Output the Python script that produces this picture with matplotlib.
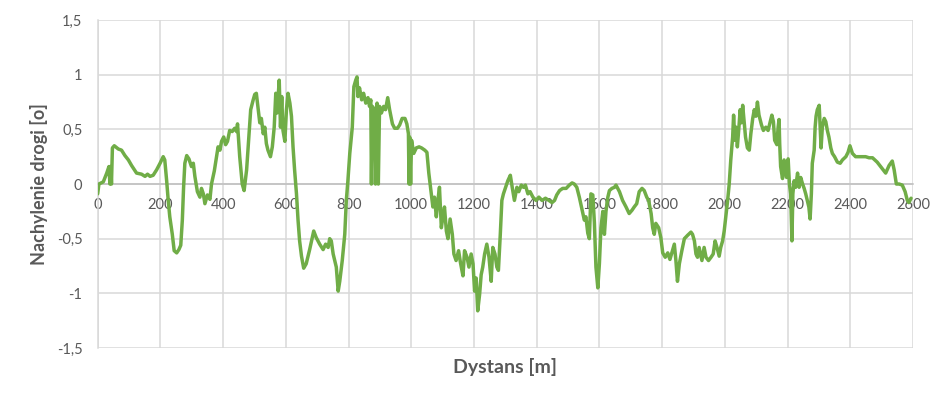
import matplotlib
matplotlib.use("Agg")
import matplotlib.pyplot as plt

plt.rcParams['font.family'] = ['Lato', 'DejaVu Sans']

distance = [0, 4, 18, 29, 36, 39, 42, 44, 47, 53, 66, 76, 87, 98, 108, 117, 124, 140, 151, 159, 167, 177, 188, 199,
            209, 214, 220, 225, 230, 238, 244, 252, 259, 265, 270, 274, 278, 284, 291, 299, 305, 310, 318, 326, 331,
            337, 342, 350, 358, 363, 372, 379, 384, 390, 395, 402, 408, 414, 421, 429, 437, 443, 446, 453, 461, 467,
            475, 480, 488, 496, 501, 506, 512, 517, 522, 528, 533, 538, 543, 551, 557, 563, 568, 572, 579, 583, 587,
            591, 597, 602, 607, 613, 618, 623, 628, 634, 639, 644, 650, 657, 665, 676, 689, 697, 708, 719, 727, 735,
            740, 745, 751, 761, 767, 772, 780, 788, 793, 798, 804, 812, 817, 823, 827, 830, 835, 842, 848, 855, 862,
            867, 871, 873, 876, 883, 886, 891, 895, 899, 905, 912, 918, 925, 931, 940, 947, 956, 963, 971, 980, 986,
            991, 993, 995, 998, 1001, 1008, 1016, 1025, 1033, 1043, 1050, 1056, 1064, 1069, 1074, 1080, 1085, 1090,
            1096, 1101, 1106, 1112, 1117, 1124, 1131, 1136, 1143, 1151, 1157, 1165, 1170, 1178, 1184, 1191, 1197,
            1202, 1207, 1212, 1218, 1223, 1228, 1234, 1241, 1248, 1255, 1260, 1267, 1273, 1278, 1284, 1289, 1294,
            1301, 1308, 1316, 1322, 1329, 1337, 1343, 1351, 1358, 1364, 1372, 1379, 1388, 1398, 1407, 1417, 1428,
            1439, 1449, 1457, 1464, 1473, 1483, 1494, 1504, 1513, 1520, 1528, 1536, 1545, 1552, 1557, 1563, 1568,
            1573, 1579, 1584, 1589, 1595, 1600, 1605, 1611, 1616, 1621, 1627, 1632, 1640, 1648, 1653, 1664, 1674,
            1685, 1695, 1704, 1711, 1719, 1727, 1736, 1743, 1751, 1757, 1765, 1770, 1775, 1780, 1789, 1796, 1802,
            1810, 1818, 1825, 1833, 1839, 1844, 1849, 1855, 1863, 1871, 1881, 1892, 1897, 1903, 1908, 1913, 1918,
            1927, 1934, 1940, 1948, 1956, 1963, 1969, 1975, 1982, 1987, 1993, 1998, 2003, 2009, 2014, 2019, 2025,
            2028, 2032, 2036, 2040, 2045, 2049, 2053, 2057, 2062, 2066, 2072, 2078, 2083, 2089, 2094, 2099, 2104,
            2109, 2117, 2123, 2131, 2138, 2145, 2150, 2155, 2159, 2166, 2170, 2173, 2175, 2178, 2184, 2189, 2192,
            2197, 2202, 2206, 2210, 2214, 2217, 2221, 2226, 2232, 2237, 2242, 2248, 2253, 2258, 2263, 2268, 2272,
            2276, 2279, 2285, 2288, 2291, 2295, 2301, 2304, 2307, 2311, 2317, 2322, 2327, 2332, 2338, 2343, 2350,
            2359, 2368, 2375, 2386, 2393, 2399, 2407, 2417, 2433, 2449, 2460, 2471, 2486, 2502, 2513, 2524, 2534,
            2540, 2547, 2556, 2566, 2575, 2582, 2587, 2594]

slope = [-0.09, 0.0, 0.02, 0.1, 0.16, 0.0, 0.16, 0.0, 0.33, 0.35, 0.32, 0.31, 0.26, 0.22, 0.17, 0.13, 0.1, 0.09, 0.07,
         0.09, 0.07, 0.08, 0.13, 0.19, 0.25, 0.22, 0.03, -0.15, -0.30, -0.46, -0.61, -0.63, -0.6, -0.56, -0.33, -0.03,
         0.19, 0.26, 0.23, 0.16, 0.19, 0.07, -0.07, -0.12, -0.04, -0.09, -0.18, -0.1, -0.14, 0.0, 0.12, 0.25, 0.34,
         0.31, 0.39, 0.43, 0.36, 0.39, 0.49, 0.48, 0.51, 0.48, 0.55, 0.25, 0.0, -0.06, 0.13, 0.34, 0.68, 0.77, 0.82,
         0.83, 0.68, 0.56, 0.6, 0.46, 0.52, 0.37, 0.31, 0.25, 0.34, 0.52, 0.83, 0.65, 0.95, 0.52, 0.8, 0.49, 0.39,
         0.68, 0.83, 0.74, 0.62, 0.34, 0.13, -0.09, -0.33, -0.52, -0.66, -0.77, -0.73, -0.6, -0.43, -0.49, -0.55,
         -0.6, -0.55, -0.58, -0.5, -0.52, -0.64, -0.76, -0.98, -0.89, -0.7, -0.46, -0.15, 0.03, 0.28, 0.52, 0.89,
         0.95, 0.98, 0.8, 0.88, 0.77, 0.83, 0.74, 0.79, 0.71, 0.77, 0.0, 0.71, 0.68, 0.0, 0.74, 0.0, 0.71, 0.65,
         0.71, 0.68, 0.79, 0.68, 0.55, 0.51, 0.51, 0.54, 0.6, 0.6, 0.55, 0.46, 0.0, 0.43, 0.0, 0.4, 0.28, 0.33, 0.34,
         0.33, 0.31, 0.29, 0.1, -0.09, -0.21, -0.12, -0.3, -0.15, -0.03, -0.4, -0.3, -0.21, -0.43, -0.5, -0.32,
         -0.46, -0.64, -0.7, -0.61, -0.72, -0.84, -0.61, -0.67, -0.76, -0.64, -0.73, -0.98, -0.86, -1.16, -1.01,
         -0.83, -0.76, -0.64, -0.55, -0.67, -0.89, -0.58, -0.64, -0.76, -0.79, -0.46, -0.15, -0.09, -0.03, 0.03,
         0.08, -0.03, -0.15, -0.03, -0.07, -0.01, -0.03, -0.01, -0.09, -0.07, -0.12, -0.15, -0.12, -0.15, -0.13,
         -0.15, -0.17, -0.15, -0.1, -0.06, -0.04, -0.04, -0.01, 0.01, 0.0, -0.03, -0.12, -0.24, -0.33, -0.3, -0.45,
         -0.5, -0.09, -0.1, -0.35, -0.76, -0.95, -0.73, -0.4, -0.25, -0.46, -0.25, -0.12, -0.06, -0.04, -0.03, -0.01,
         -0.07, -0.15, -0.21, -0.27, -0.24, -0.21, -0.18, -0.07, -0.04, -0.06, -0.12, -0.15, -0.27, -0.4, -0.46,
         -0.36, -0.4, -0.49, -0.63, -0.67, -0.63, -0.69, -0.61, -0.55, -0.7, -0.89, -0.73, -0.61, -0.5, -0.47, -0.44,
         -0.46, -0.52, -0.64, -0.67, -0.58, -0.7, -0.58, -0.67, -0.7, -0.67, -0.64, -0.52, -0.58, -0.66, -0.58,
         -0.52, -0.43, -0.3, -0.15, 0.0, 0.22, 0.43, 0.63, 0.4, 0.52, 0.34, 0.52, 0.68, 0.56, 0.72, 0.56, 0.43,
         0.33, 0.31, 0.46, 0.6, 0.68, 0.62, 0.75, 0.63, 0.54, 0.49, 0.52, 0.49, 0.57, 0.63, 0.57, 0.4, 0.36, 0.52,
         0.59, 0.37, 0.16, 0.05, 0.22, 0.13, 0.06, 0.23, 0.0, -0.09, -0.52, -0.09, 0.03, -0.03, 0.1, -0.03, 0.06,
         0.0, -0.04, -0.09, -0.15, -0.21, -0.32, -0.09, 0.19, 0.31, 0.52, 0.62, 0.68, 0.72, 0.52, 0.33, 0.52, 0.6,
         0.57, 0.49, 0.43, 0.33, 0.28, 0.25, 0.2, 0.19, 0.22, 0.25, 0.29, 0.35, 0.28, 0.25, 0.25, 0.25, 0.24, 0.24,
         0.2, 0.14, 0.1, 0.17, 0.21, 0.13, 0.0, 0.0, -0.01, -0.07, -0.15, -0.17, -0.13]

x_ticks = list(range(0, 2601, 200))
y_ticks = [-1.5, -1.0, -0.5, 0.0, 0.5, 1.0, 1.5]
y_tick_labels = ['-1,5', '-1', '-0,5', '0', '0,5', '1', '1,5']
x_label = 'Dystans [m]'
y_label = 'Nachylenie drogi [o]'

fig = plt.figure(figsize=(9.51, 4.01), dpi=100)
ax = fig.add_axes([0.1027, 0.1322, 0.8573, 0.8178])

ax.plot(distance, slope, color='#70AD47', linewidth=2.5, solid_joinstyle='round',
        solid_capstyle='round', zorder=3)

ax.set_xlim(0, 2600)
ax.set_ylim(-1.5, 1.5)
ax.set_xticks(x_ticks)
ax.set_xticklabels([str(v) for v in x_ticks])
ax.set_yticks(y_ticks)
ax.set_yticklabels(y_tick_labels)

ax.grid(True, color='#D9D9D9', linewidth=1.1, zorder=0)
ax.set_axisbelow(True)

for s in ['top', 'right']:
    ax.spines[s].set_visible(False)
ax.spines['left'].set_color('#D9D9D9')
ax.spines['left'].set_linewidth(1.1)
ax.spines['bottom'].set_position(('data', 0))
ax.spines['bottom'].set_color('#BFBFBF')
ax.spines['bottom'].set_linewidth(1.1)
ax.spines['bottom'].set_zorder(1)

ax.tick_params(axis='both', length=0, labelsize=10.5, colors='#595959')
ax.tick_params(axis='y', pad=11)
ax.tick_params(axis='x', pad=10)

fig.text(0.531, 0.085, x_label, ha='center', va='center', fontsize=14, fontweight='bold', color='#595959')
fig.text(0.041, 0.54, y_label, ha='center', va='center', rotation=90, fontsize=13, fontweight='bold', color='#595959')

fig.savefig('out.png', dpi=100)
